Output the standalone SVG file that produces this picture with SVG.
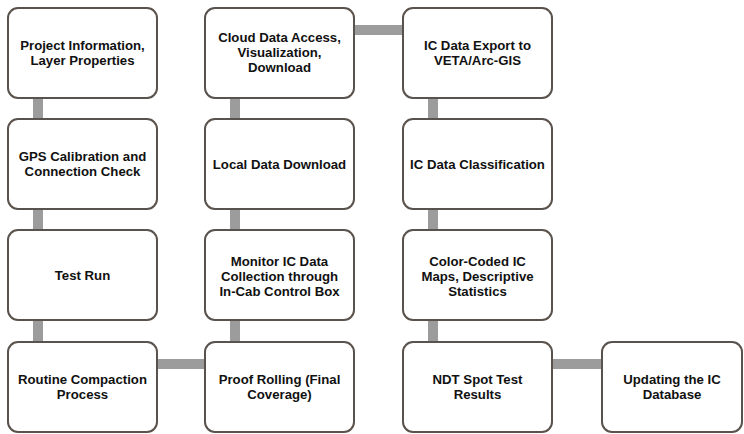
<svg xmlns="http://www.w3.org/2000/svg" width="744" height="434" viewBox="0 0 744 434">
<style>
.box{fill:#fff;stroke:#5a524c;stroke-width:2}
.t{font-family:"Liberation Sans",Arial,sans-serif;font-weight:bold;font-size:13.2px;fill:#111;text-anchor:middle}
.c{stroke:#9c9c9c;stroke-width:10;fill:none}
</style>
<rect width="744" height="434" fill="#fff"/>
<g id="connectors">
<line class="c" x1="38" y1="98" x2="38" y2="119"/>
<line class="c" x1="38" y1="209" x2="38" y2="230"/>
<line class="c" x1="38" y1="320" x2="38" y2="342"/>
<line class="c" x1="156" y1="364" x2="205" y2="364"/>
<line class="c" x1="235" y1="320" x2="235" y2="342"/>
<line class="c" x1="235" y1="209" x2="235" y2="230"/>
<line class="c" x1="235" y1="98" x2="235" y2="119"/>
<line class="c" x1="354" y1="30" x2="403" y2="30"/>
<line class="c" x1="433" y1="98" x2="433" y2="119"/>
<line class="c" x1="433" y1="209" x2="433" y2="230"/>
<line class="c" x1="433" y1="320" x2="433" y2="342"/>
<line class="c" x1="553" y1="364" x2="602" y2="364"/>
</g>
<g id="n1"><rect class="box" x="8" y="8" width="149" height="90" rx="10"/>
<text class="t" x="82.5" y="50">Project Information,</text><text class="t" x="82.5" y="65">Layer Properties</text></g>
<g id="n2"><rect class="box" x="8" y="119" width="149" height="90" rx="10"/>
<text class="t" x="82.5" y="161">GPS Calibration and</text><text class="t" x="82.5" y="176">Connection Check</text></g>
<g id="n3"><rect class="box" x="8" y="230" width="149" height="90" rx="10"/>
<text class="t" x="82.5" y="280">Test Run</text></g>
<g id="n4"><rect class="box" x="8" y="342" width="149" height="90" rx="10"/>
<text class="t" x="82.5" y="384">Routine Compaction</text><text class="t" x="82.5" y="399">Process</text></g>
<g id="n5"><rect class="box" x="205" y="342" width="149" height="90" rx="10"/>
<text class="t" x="279.5" y="384">Proof Rolling (Final</text><text class="t" x="279.5" y="399">Coverage)</text></g>
<g id="n6"><rect class="box" x="205" y="230" width="149" height="90" rx="10"/>
<text class="t" x="279.5" y="266">Monitor IC Data</text><text class="t" x="279.5" y="281">Collection through</text><text class="t" x="279.5" y="296">In-Cab Control Box</text></g>
<g id="n7"><rect class="box" x="205" y="119" width="149" height="90" rx="10"/>
<text class="t" x="279.5" y="169">Local Data Download</text></g>
<g id="n8"><rect class="box" x="205" y="8" width="149" height="90" rx="10"/>
<text class="t" x="279.5" y="42">Cloud Data Access,</text><text class="t" x="279.5" y="57">Visualization,</text><text class="t" x="279.5" y="72">Download</text></g>
<g id="n9"><rect class="box" x="403" y="8" width="149" height="90" rx="10"/>
<text class="t" x="477.5" y="50">IC Data Export to</text><text class="t" x="477.5" y="65">VETA/Arc-GIS</text></g>
<g id="n10"><rect class="box" x="403" y="119" width="149" height="90" rx="10"/>
<text class="t" x="477.5" y="169">IC Data Classification</text></g>
<g id="n11"><rect class="box" x="403" y="230" width="149" height="90" rx="10"/>
<text class="t" x="477.5" y="266">Color-Coded IC</text><text class="t" x="477.5" y="281">Maps, Descriptive</text><text class="t" x="477.5" y="296">Statistics</text></g>
<g id="n12"><rect class="box" x="403" y="342" width="149" height="90" rx="10"/>
<text class="t" x="477.5" y="384">NDT Spot Test</text><text class="t" x="477.5" y="399">Results</text></g>
<g id="n13"><rect class="box" x="602" y="342" width="140" height="90" rx="10"/>
<text class="t" x="672" y="384">Updating the IC</text><text class="t" x="672" y="399">Database</text></g>
</svg>
